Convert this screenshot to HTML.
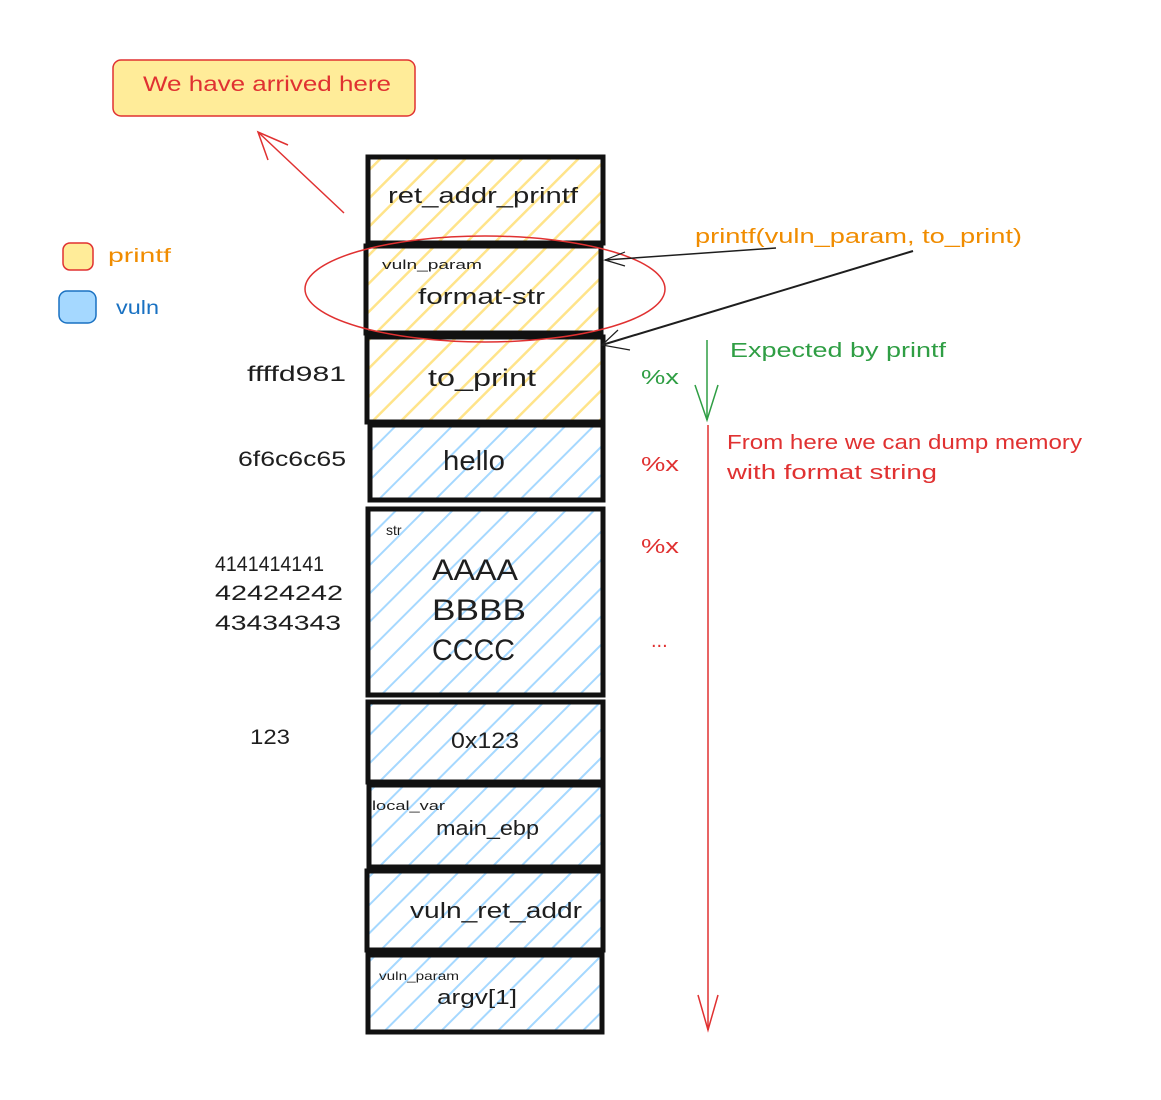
<!DOCTYPE html>
<html><head><meta charset="utf-8"><style>
html,body{margin:0;padding:0;background:#fff;width:1161px;height:1100px;overflow:hidden}
text{font-family:"Liberation Sans",sans-serif}
</style></head><body>
<svg width="1161" height="1100" viewBox="0 0 1161 1100" xmlns="http://www.w3.org/2000/svg">
<defs>
<pattern id="hy" patternUnits="userSpaceOnUse" width="20" height="20" patternTransform="rotate(45)">
<rect width="20" height="20" fill="#fff"/><line x1="0" y1="0" x2="0" y2="20" stroke="#ffe48a" stroke-width="5"/></pattern>
<pattern id="hb" patternUnits="userSpaceOnUse" width="20" height="20" patternTransform="rotate(45)">
<rect width="20" height="20" fill="#fff"/><line x1="0" y1="0" x2="0" y2="20" stroke="#a5d8ff" stroke-width="4"/></pattern>
</defs>
<rect width="1161" height="1100" fill="#fff"/>
<rect x="113" y="60" width="302" height="56" rx="8" fill="#ffec99" stroke="#e03131" stroke-width="1.5"/>
<text x="143" y="91" font-size="21" fill="#e03131" textLength="248" lengthAdjust="spacingAndGlyphs">We have arrived here</text>
<line x1="344" y1="213" x2="258" y2="132" stroke="#e03131" stroke-width="1.5"/>
<polyline points="268,160 258,132 288,145" fill="none" stroke="#e03131" stroke-width="1.5"/>
<rect x="63" y="243" width="30" height="27" rx="7" fill="#ffec99" stroke="#e03131" stroke-width="1.5"/>
<text x="108" y="262" font-size="19" fill="#f08c00" textLength="63" lengthAdjust="spacingAndGlyphs">printf</text>
<rect x="59" y="291" width="37" height="32" rx="8" fill="#a5d8ff" stroke="#1971c2" stroke-width="1.5"/>
<text x="116" y="314" font-size="19" fill="#1971c2" textLength="43" lengthAdjust="spacingAndGlyphs">vuln</text>
<g stroke="#111" stroke-width="5">
<rect x="368" y="157" width="235" height="86" fill="url(#hy)"/>
<rect x="366" y="246" width="235" height="87" fill="url(#hy)"/>
<rect x="367" y="337" width="236" height="85" fill="url(#hy)"/>
<rect x="370" y="425" width="233" height="75" fill="url(#hb)"/>
<rect x="368" y="509" width="235" height="186" fill="url(#hb)"/>
<rect x="368" y="702" width="235" height="80" fill="url(#hb)"/>
<rect x="369" y="785" width="234" height="82" fill="url(#hb)"/>
<rect x="367" y="871" width="236" height="79" fill="url(#hb)"/>
<rect x="368" y="955" width="234" height="77" fill="url(#hb)"/>
</g>
<g fill="#1e1e1e">
<text x="388" y="203" font-size="22" textLength="190" lengthAdjust="spacingAndGlyphs">ret_addr_printf</text>
<text x="382" y="269" font-size="13" textLength="100" lengthAdjust="spacingAndGlyphs">vuln_param</text>
<text x="418" y="304" font-size="22" textLength="127" lengthAdjust="spacingAndGlyphs">format-str</text>
<text x="428" y="386" font-size="24" textLength="108" lengthAdjust="spacingAndGlyphs">to_print</text>
<text x="443" y="470" font-size="28" textLength="62" lengthAdjust="spacingAndGlyphs">hello</text>
<text x="386" y="535" font-size="14">str</text>
<text x="432" y="580" font-size="30" textLength="86" lengthAdjust="spacingAndGlyphs">AAAA</text>
<text x="432" y="620" font-size="30" textLength="94" lengthAdjust="spacingAndGlyphs">BBBB</text>
<text x="432" y="660" font-size="30" textLength="83" lengthAdjust="spacingAndGlyphs">CCCC</text>
<text x="451" y="748" font-size="22" textLength="68" lengthAdjust="spacingAndGlyphs">0x123</text>
<text x="372" y="810" font-size="13" textLength="73" lengthAdjust="spacingAndGlyphs">local_var</text>
<text x="436" y="835" font-size="20" textLength="103" lengthAdjust="spacingAndGlyphs">main_ebp</text>
<text x="410" y="918" font-size="22" textLength="172" lengthAdjust="spacingAndGlyphs">vuln_ret_addr</text>
<text x="379" y="980" font-size="12" textLength="80" lengthAdjust="spacingAndGlyphs">vuln_param</text>
<text x="437" y="1004" font-size="20" textLength="80" lengthAdjust="spacingAndGlyphs">argv[1]</text>
<text x="247" y="381" font-size="21" textLength="99" lengthAdjust="spacingAndGlyphs">ffffd981</text>
<text x="238" y="466" font-size="21" textLength="108" lengthAdjust="spacingAndGlyphs">6f6c6c65</text>
<text x="215" y="571" font-size="21" textLength="109" lengthAdjust="spacingAndGlyphs">4141414141</text>
<text x="215" y="600" font-size="21" textLength="128" lengthAdjust="spacingAndGlyphs">42424242</text>
<text x="215" y="630" font-size="21" textLength="126" lengthAdjust="spacingAndGlyphs">43434343</text>
<text x="250" y="744" font-size="21" textLength="40" lengthAdjust="spacingAndGlyphs">123</text>
</g>
<ellipse cx="485" cy="289" rx="180" ry="53" fill="none" stroke="#e03131" stroke-width="1.5"/>
<text x="695" y="243" font-size="20" fill="#f08c00" textLength="327" lengthAdjust="spacingAndGlyphs">printf(vuln_param, to_print)</text>
<line x1="776" y1="248" x2="605" y2="260" stroke="#1e1e1e" stroke-width="1.5"/>
<polyline points="625,252 605,260 625,266" fill="none" stroke="#1e1e1e" stroke-width="1.2"/>
<line x1="913" y1="251" x2="602" y2="345" stroke="#1e1e1e" stroke-width="2"/>
<polyline points="618,330 602,345 630,350" fill="none" stroke="#1e1e1e" stroke-width="1.2"/>
<line x1="707" y1="340" x2="707" y2="420" stroke="#2f9e44" stroke-width="1.5"/>
<polyline points="695,385 707,420 718,385" fill="none" stroke="#2f9e44" stroke-width="1.5"/>
<text x="730" y="357" font-size="20" fill="#2f9e44" textLength="216" lengthAdjust="spacingAndGlyphs">Expected by printf</text>
<text x="641" y="384" font-size="20" fill="#2f9e44" textLength="38" lengthAdjust="spacingAndGlyphs">%x</text>
<text x="641" y="471" font-size="20" fill="#e03131" textLength="38" lengthAdjust="spacingAndGlyphs">%x</text>
<text x="641" y="553" font-size="20" fill="#e03131" textLength="38" lengthAdjust="spacingAndGlyphs">%x</text>
<text x="651" y="647" font-size="20" fill="#e03131">...</text>
<line x1="708" y1="425" x2="708" y2="1030" stroke="#e03131" stroke-width="1.5"/>
<polyline points="698,995 708,1030 718,995" fill="none" stroke="#e03131" stroke-width="1.5"/>
<text x="727" y="449" font-size="20" fill="#e03131" textLength="355" lengthAdjust="spacingAndGlyphs">From here we can dump memory</text>
<text x="727" y="479" font-size="20" fill="#e03131" textLength="210" lengthAdjust="spacingAndGlyphs">with format string</text>
</svg>
</body></html>
